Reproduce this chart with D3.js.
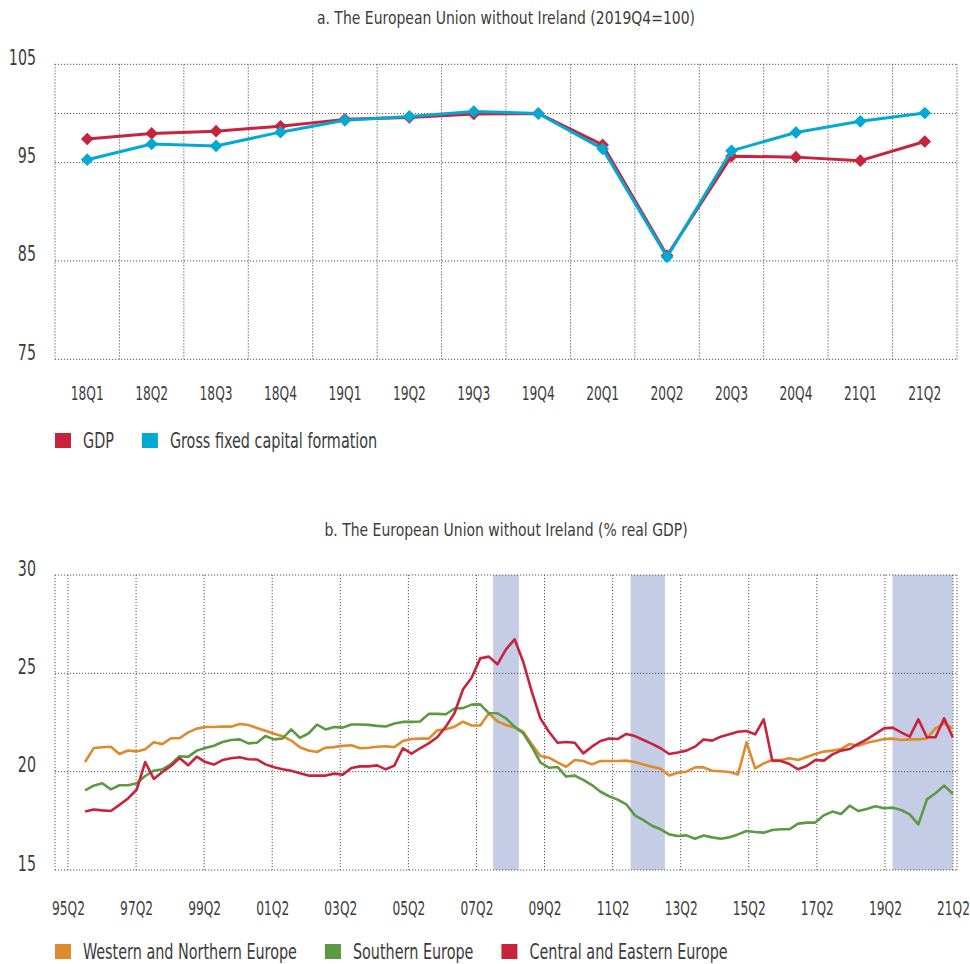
<!DOCTYPE html>
<html>
<head>
<meta charset="utf-8">
<script src="https://cdn.jsdelivr.net/npm/d3@7"></script>
<style>
  body { margin: 0; background: #fff; }
  text { font-family: 'DejaVu Sans Condensed', 'Liberation Sans Narrow', sans-serif; fill: #3c3c3c; }
  .grid { stroke: #555; stroke-width: 1; stroke-dasharray: 1.2 1.8; fill: none; }
</style>
</head>
<body>
<div id="chart"></div>
<script>
// ---- chart a : index 2019Q4 = 100
const quartersA = ["18Q1", "18Q2", "18Q3", "18Q4", "19Q1", "19Q2", "19Q3", "19Q4",
                   "20Q1", "20Q2", "20Q3", "20Q4", "21Q1", "21Q2"];
const gdp  = [97.4, 97.97, 98.2, 98.7, 99.4, 99.6, 99.95, 100, 96.8, 85.55, 95.66, 95.56, 95.2, 97.15];
const gfcf = [95.3, 96.9, 96.7, 98.1, 99.3, 99.7, 100.2, 100, 96.4, 85.4, 96.2, 98.07, 99.2, 100.05];
const ticksA = [75, 85, 95, 105];
const gridA = [75, 85, 95, 100, 105];

// ---- chart b : investment, % of real GDP (96Q1 .. 21Q2)
const western = [
  20.49, 21.2, 21.24, 21.27, 20.9, 21.08, 21.03, 21.14, 21.5, 21.4, 21.7, 21.7, 22.0, 22.19, 22.27, 22.27, 22.3, 22.29, 22.42, 22.37, 22.22,
  22.08, 21.93, 21.8, 21.58, 21.24, 21.08, 21.0, 21.22, 21.25, 21.31, 21.34, 21.19, 21.22, 21.27, 21.29, 21.25, 21.56, 21.66, 21.69, 21.68,
  22.1, 22.16, 22.29, 22.54, 22.35, 22.35, 22.97, 22.56, 22.37, 22.25, 22.03, 21.39, 20.8, 20.71, 20.47, 20.25, 20.59, 20.54, 20.37, 20.54,
  20.54, 20.54, 20.56, 20.49, 20.36, 20.25, 20.15, 19.8, 19.95, 20.0, 20.22, 20.22, 20.05, 20.02, 19.98, 19.86, 21.49, 20.17, 20.42, 20.59,
  20.59, 20.68, 20.59, 20.75, 20.9, 21.02, 21.07, 21.15, 21.41, 21.32, 21.47, 21.56, 21.66, 21.68, 21.61, 21.64, 21.64, 21.69, 22.2, 22.46, 22.19
];
const southern = [
  19.05, 19.29, 19.41, 19.1, 19.31, 19.31, 19.41, 19.78, 20.05, 20.12, 20.39, 20.78, 20.75, 21.07, 21.2, 21.32, 21.51, 21.61, 21.64, 21.44, 21.47,
  21.81, 21.64, 21.69, 22.15, 21.72, 21.94, 22.39, 22.15, 22.27, 22.24, 22.4, 22.4, 22.38, 22.33, 22.3, 22.45, 22.53, 22.53, 22.55, 22.94,
  22.94, 22.92, 23.21, 23.23, 23.41, 23.42, 22.98, 22.97, 22.71, 22.29, 21.95, 21.27, 20.47, 20.2, 20.24, 19.75, 19.8, 19.58, 19.32, 18.98,
  18.75, 18.58, 18.34, 17.78, 17.54, 17.25, 17.07, 16.81, 16.73, 16.76, 16.59, 16.75, 16.66, 16.59, 16.66, 16.81, 16.98, 16.93, 16.9, 17.03,
  17.07, 17.07, 17.36, 17.41, 17.41, 17.78, 17.97, 17.85, 18.27, 18.0, 18.1, 18.24, 18.14, 18.17, 18.05, 17.83, 17.32, 18.59, 18.9, 19.29, 18.88
];
const central = [
  17.97, 18.08, 18.03, 18.0, 18.31, 18.64, 19.08, 20.49, 19.63, 19.98, 20.29, 20.69, 20.32, 20.76, 20.49, 20.36, 20.59, 20.68, 20.73, 20.63, 20.62,
  20.37, 20.22, 20.12, 20.05, 19.92, 19.8, 19.8, 19.8, 19.9, 19.85, 20.19, 20.27, 20.27, 20.32, 20.12, 20.31, 21.19, 20.92, 21.19, 21.44,
  21.75, 22.29, 22.97, 24.19, 24.78, 25.76, 25.85, 25.46, 26.22, 26.73, 25.59, 24.07, 22.71, 22.03, 21.47, 21.51, 21.47, 20.93, 21.27, 21.56,
  21.69, 21.66, 21.92, 21.81, 21.61, 21.41, 21.19, 20.9, 20.97, 21.07, 21.27, 21.64, 21.58, 21.78, 21.9, 22.03, 22.07, 21.9, 22.66, 20.56,
  20.54, 20.39, 20.12, 20.29, 20.59, 20.56, 20.88, 21.07, 21.15, 21.41, 21.64, 21.92, 22.2, 22.24, 22.0, 21.78, 22.66, 21.75, 21.75, 22.71, 21.75
];
const ticksBx = ["95Q2", "97Q2", "99Q2", "01Q2", "03Q2", "05Q2", "07Q2", "09Q2", "11Q2", "13Q2", "15Q2", "17Q2", "19Q2", "21Q2"];
const ticksBy = [15, 20, 25, 30];
// shaded periods, in quarters counted from 95Q2
const shadeFrom = [50.5, 66.5, 97];
const shadeTo   = [53.5, 70.5, 104];

const red = "#c8233d", cyan = "#03a9d3", orange = "#df8a2b", green = "#5b9942";

// quarter labels like "96Q1" between two labels
function quarterRange(a, b) {
  const out = [];
  let y = +a.slice(0, 2), q = +a.slice(3);
  y = y > 50 ? 1900 + y : 2000 + y;
  let yb = +b.slice(0, 2), qb = +b.slice(3);
  yb = yb > 50 ? 1900 + yb : 2000 + yb;
  while (y < yb || (y === yb && q <= qb)) {
    out.push(String(y % 100).padStart(2, "0") + "Q" + q);
    q++; if (q > 4) { q = 1; y++; }
  }
  return out;
}

// narrow the glyphs horizontally, keeping the anchor point in place
function squeeze(sel, k) {
  sel.each(function () {
    const t = d3.select(this);
    const x = +t.attr("x") || 0;
    t.attr("transform", `translate(${x * (1 - k)},0) scale(${k},1)`);
  });
}

const W = 970, H = 964;
const left = 55, right = 957;
const svg = d3.select("#chart").append("svg").attr("width", W).attr("height", H);

function title(txt, y) {
  svg.append("text").attr("x", (left + right) / 2).attr("y", y)
    .attr("text-anchor", "middle").style("font-size", "18.5px").text(txt)
    .call(squeeze, 0.84);
}

function legend(items, y) {
  const k = 0.78;
  let x = left;
  items.forEach(it => {
    svg.append("rect").attr("x", x).attr("y", y - 15).attr("width", 16).attr("height", 15).attr("fill", it.color);
    const t = svg.append("text").attr("x", x + 28).attr("y", y).style("font-size", "20.5px").text(it.name)
      .call(squeeze, k);
    x = x + 28 + t.node().getComputedTextLength() * k + 28;
  });
}

function yLabels(sel) {
  sel.selectAll("text").attr("dy", 0).attr("x", 0).attr("fill", null)
    .style("font-size", "22px").call(squeeze, 0.72);
}
function xLabels(sel) {
  sel.selectAll("text").attr("y", 0).attr("dy", 0).attr("fill", null)
    .style("font-size", "20px").call(squeeze, 0.68);
}

// ================= chart a =================
title("a. The European Union without Ireland (2019Q4=100)", 24);

const xA = d3.scaleBand().domain(quartersA).range([left, right]);
const yA = d3.scaleLinear().domain([75, 105]).range([359.3, 64.3]);
const cx = (d, i) => xA(quartersA[i]) + xA.bandwidth() / 2;

const gA = svg.append("g");
gA.append("g").selectAll("line").data(gridA).join("line")
  .attr("class", "grid").attr("x1", left).attr("x2", right)
  .attr("y1", d => yA(d)).attr("y2", d => yA(d));
gA.append("g").selectAll("line").data(quartersA).join("line")
  .attr("class", "grid")
  .attr("x1", d => xA(d)).attr("x2", d => xA(d))
  .attr("y1", yA(105)).attr("y2", yA(75));
gA.append("line").attr("class", "grid").attr("x1", right).attr("x2", right).attr("y1", yA(105)).attr("y2", yA(75));

gA.append("g").attr("transform", "translate(36,0)")
  .call(d3.axisLeft(yA).tickValues(ticksA).tickSize(0).tickPadding(0))
  .call(g => g.select(".domain").remove())
  .call(yLabels);

gA.append("g").attr("transform", "translate(0,400)")
  .call(d3.axisBottom(xA).tickSize(0).tickPadding(0))
  .call(g => g.select(".domain").remove())
  .call(xLabels);

const lineA = d3.line().x(cx).y(d => yA(d));
[[gdp, red], [gfcf, cyan]].forEach(([vals, col]) => {
  gA.append("path").datum(vals).attr("d", lineA).attr("fill", "none")
    .attr("stroke", col).attr("stroke-width", 3).attr("stroke-linejoin", "round");
  gA.append("g").selectAll("path").data(vals).join("path")
    .attr("d", d3.symbol(d3.symbolSquare, 80))
    .attr("transform", (d, i) => `translate(${cx(d, i)},${yA(d)}) rotate(45)`)
    .attr("fill", col);
});

legend([{ name: "GDP", color: red }, { name: "Gross fixed capital formation", color: cyan }], 448);

// ================= chart b =================
title("b. The European Union without Ireland (% real GDP)", 536);

const axisQuarters = quarterRange("95Q2", "21Q2");
const dataQuarters = quarterRange("96Q1", "21Q2");
const xB = d3.scaleBand().domain(axisQuarters).range([left, right]);
const xBi = d3.scaleLinear().domain([0, axisQuarters.length - 1])
  .range([xB(axisQuarters[0]) + xB.bandwidth() / 2, xB(axisQuarters[axisQuarters.length - 1]) + xB.bandwidth() / 2]);
const xBt = d3.scalePoint().domain(ticksBx).range([68, 953]);
const yB = d3.scaleLinear().domain([15, 30]).range([870, 575]);

const gB = svg.append("g");
gB.append("g").selectAll("rect").data(shadeFrom).join("rect")
  .attr("x", d => xBi(d)).attr("width", (d, i) => xBi(shadeTo[i]) - xBi(d))
  .attr("y", yB(30)).attr("height", yB(15) - yB(30)).attr("fill", "#c5cde6");

gB.append("g").selectAll("line").data(ticksBy).join("line")
  .attr("class", "grid").attr("x1", left).attr("x2", right)
  .attr("y1", d => yB(d)).attr("y2", d => yB(d));
gB.append("g").selectAll("line").data(ticksBx).join("line")
  .attr("class", "grid").attr("x1", d => xBt(d)).attr("x2", d => xBt(d))
  .attr("y1", yB(30)).attr("y2", yB(15));
[left, right].forEach(x => gB.append("line").attr("class", "grid")
  .attr("x1", x).attr("x2", x).attr("y1", yB(30)).attr("y2", yB(15)));

gB.append("g").attr("transform", "translate(36,0)")
  .call(d3.axisLeft(yB).tickValues(ticksBy).tickSize(0).tickPadding(0))
  .call(g => g.select(".domain").remove())
  .call(yLabels);

gB.append("g").attr("transform", "translate(0,915)")
  .call(d3.axisBottom(xBt).tickSize(0).tickPadding(0))
  .call(g => g.select(".domain").remove())
  .call(xLabels);

const lineB = d3.line()
  .x((d, i) => xB(dataQuarters[i]) + xB.bandwidth() / 2)
  .y(d => yB(d));
[[western, orange], [southern, green], [central, red]].forEach(([vals, col]) => {
  gB.append("path").datum(vals).attr("d", lineB).attr("fill", "none")
    .attr("stroke", col).attr("stroke-width", 2.6).attr("stroke-linejoin", "round");
});

legend([{ name: "Western and Northern Europe", color: orange },
        { name: "Southern Europe", color: green },
        { name: "Central and Eastern Europe", color: red }], 959);
</script>
</body>
</html>
